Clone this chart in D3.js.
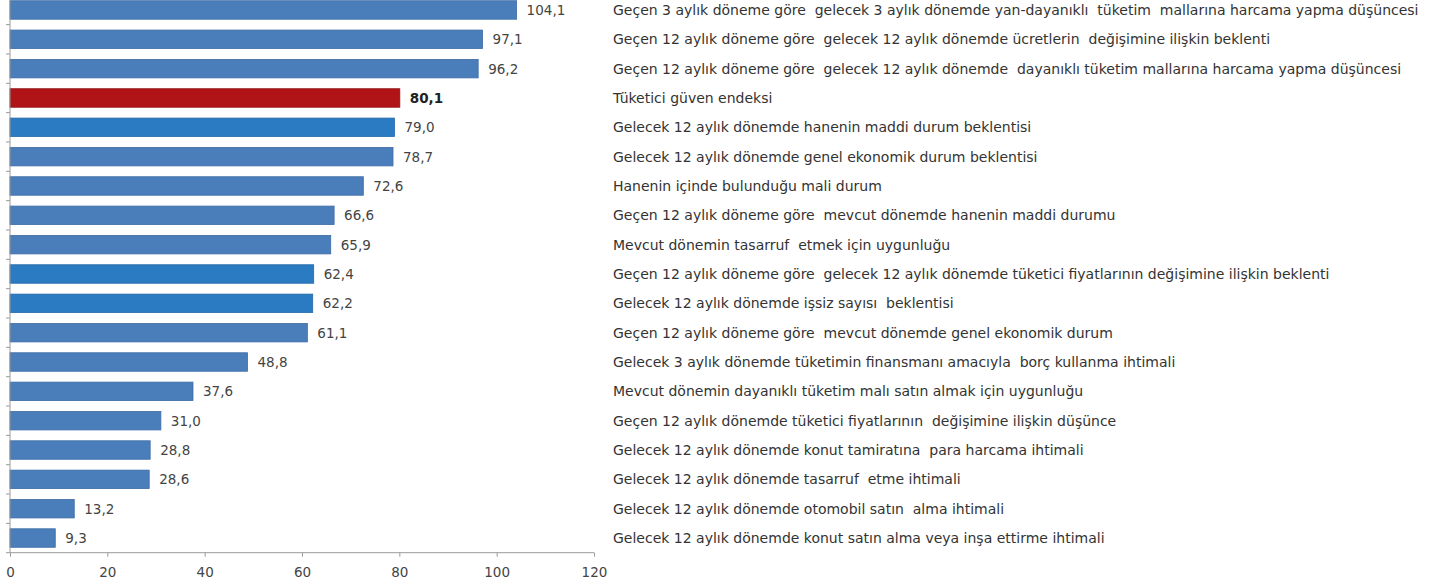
<!DOCTYPE html>
<html><head><meta charset="utf-8">
<script src="https://cdn.jsdelivr.net/npm/d3@7"></script>
<style>body{margin:0;background:#fff}svg{display:block}</style>
</head><body>
<script>
const categories = [
  "Geçen 3 aylık döneme göre  gelecek 3 aylık dönemde yan-dayanıklı  tüketim  mallarına harcama yapma düşüncesi",
  "Geçen 12 aylık döneme göre  gelecek 12 aylık dönemde ücretlerin  değişimine ilişkin beklenti",
  "Geçen 12 aylık döneme göre  gelecek 12 aylık dönemde  dayanıklı tüketim mallarına harcama yapma düşüncesi",
  "Tüketici güven endeksi",
  "Gelecek 12 aylık dönemde hanenin maddi durum beklentisi",
  "Gelecek 12 aylık dönemde genel ekonomik durum beklentisi",
  "Hanenin içinde bulunduğu mali durum",
  "Geçen 12 aylık döneme göre  mevcut dönemde hanenin maddi durumu",
  "Mevcut dönemin tasarruf  etmek için uygunluğu",
  "Geçen 12 aylık döneme göre  gelecek 12 aylık dönemde tüketici fiyatlarının değişimine ilişkin beklenti",
  "Gelecek 12 aylık dönemde işsiz sayısı  beklentisi",
  "Geçen 12 aylık döneme göre  mevcut dönemde genel ekonomik durum",
  "Gelecek 3 aylık dönemde tüketimin finansmanı amacıyla  borç kullanma ihtimali",
  "Mevcut dönemin dayanıklı tüketim malı satın almak için uygunluğu",
  "Geçen 12 aylık dönemde tüketici fiyatlarının  değişimine ilişkin düşünce",
  "Gelecek 12 aylık dönemde konut tamiratına  para harcama ihtimali",
  "Gelecek 12 aylık dönemde tasarruf  etme ihtimali",
  "Gelecek 12 aylık dönemde otomobil satın  alma ihtimali",
  "Gelecek 12 aylık dönemde konut satın alma veya inşa ettirme ihtimali"
];
const values = [104.1, 97.1, 96.2, 80.1, 79.0, 78.7, 72.6, 66.6, 65.9, 62.4, 62.2, 61.1, 48.8, 37.6, 31.0, 28.8, 28.6, 13.2, 9.3];
// series group per bar: "index" (headline), "bright" (expectation group), "base"
const groups = ["base","base","base","index","bright","base","base","base","base","bright","bright","base","base","base","base","base","base","base","base"];
const xTicks = [0, 20, 40, 60, 80, 100, 120];

const W = 1450, H = 585;
const FONT = "DejaVu Sans, Verdana, sans-serif";
const svg = d3.select("body").append("svg").attr("width", W).attr("height", H);

const x = d3.scaleLinear().domain([0, 120]).range([10, 594]);
const y = d3.scaleBand().domain(d3.range(categories.length)).range([-4.7, 552.7]).paddingInner(0.37).paddingOuter(0.185);

const fill = {base: "#4a7ebb", bright: "#2b7bc2", index: "#b01416"};
const stroke = {base: "#3d6ca6", bright: "#2468a8", index: "#8f1012"};

// bars
svg.append("g").selectAll("rect").data(values).join("rect")
  .attr("x", x(0))
  .attr("y", (d, i) => y(i))
  .attr("width", d => x(d) - x(0))
  .attr("height", y.bandwidth())
  .attr("fill", (d, i) => fill[groups[i]])
  .attr("stroke", (d, i) => stroke[groups[i]])
  .attr("stroke-width", 0.8);

// value labels
const fmt = v => d3.format(".1f")(v).replace(".", ",");
svg.append("g").selectAll("text").data(values).join("text")
  .attr("x", d => x(d) + 10)
  .attr("y", (d, i) => y(i) + y.bandwidth() / 2)
  .attr("dy", "0.36em")
  .attr("font-family", FONT)
  .attr("font-size", 13.5)
  .attr("font-weight", (d, i) => groups[i] === "index" ? "bold" : "normal")
  .attr("fill", (d, i) => groups[i] === "index" ? "#222" : "#444")
  .text(fmt);

// category labels
svg.append("g").selectAll("text").data(categories).join("text")
  .attr("x", 613)
  .attr("y", (d, i) => y(i) + y.bandwidth() / 2)
  .attr("dy", "0.36em")
  .attr("font-family", FONT)
  .attr("font-size", 14)
  .attr("fill", "#333")
  .attr("xml:space", "preserve")
  .style("white-space", "pre")
  .text(d => d);

// y axis line with ticks at band boundaries
const yAxisG = svg.append("g");
yAxisG.append("line").attr("x1", x(0)).attr("x2", x(0)).attr("y1", -4.7).attr("y2", 552.7)
  .attr("stroke", "#9a9a9a").attr("stroke-width", 1);
const step = y.step();
yAxisG.selectAll("line.t").data(d3.range(categories.length + 1)).join("line").attr("class", "t")
  .attr("x1", x(0) - 4).attr("x2", x(0))
  .attr("y1", i => -4.7 + i * step).attr("y2", i => -4.7 + i * step)
  .attr("stroke", "#9a9a9a");

// x axis
const xAxis = d3.axisBottom(x).tickValues(xTicks).tickSize(4).tickPadding(11).tickFormat(d3.format("d"));
const gx = svg.append("g").attr("transform", "translate(0,552.7)").call(xAxis);
gx.select(".domain").attr("stroke", "#9a9a9a").attr("d", "M10,0H594");
gx.selectAll(".tick line").attr("stroke", "#9a9a9a");
gx.selectAll(".tick text").attr("font-family", FONT).attr("font-size", 13.5).attr("fill", "#444");
</script>
</body></html>
